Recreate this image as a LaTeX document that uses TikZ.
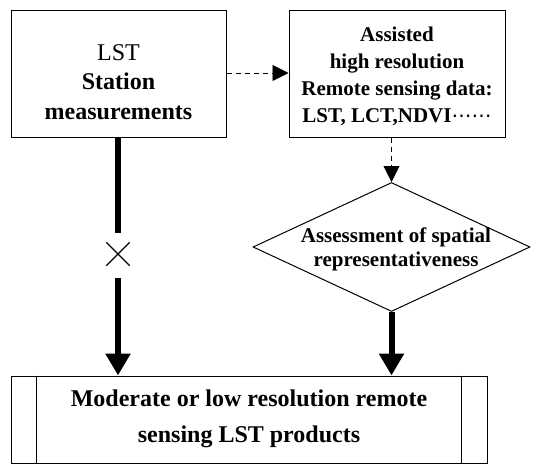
\documentclass[tikz,border=0pt]{standalone}
\usepackage{fontspec}
\setmainfont{Liberation Serif}
\newfontfamily\dvs{DejaVu Sans}
\usetikzlibrary{arrows.meta,shapes.geometric,shapes.misc}
\begin{document}
\begin{tikzpicture}[x=1pt,y=-1pt,
  boxst/.style={draw,line width=1pt,inner sep=0pt},
  thinarr/.style={draw,line width=0.9pt,dashed,dash pattern=on 5pt off 4pt,-{Triangle[length=16pt,width=16pt]}},
  thickarr/.style={draw,line width=6pt,-{Triangle[length=22pt,width=24pt]}},
  thickline/.style={draw,line width=6pt}]
\useasboundingbox (0,0) rectangle (550,466);
% boxes
\node[boxst,minimum width=215pt,minimum height=127pt] (st) at (118.5,73.5) {};
\node[align=center,font=\fontsize{24}{29.5}\selectfont] at (118.5,82) {LST\\\textbf{Station}\\\textbf{measurements}};
\node[boxst,minimum width=216pt,minimum height=127pt] (rs) at (397,73.5) {};
\node[align=center,font=\bfseries\fontsize{21}{27}\selectfont] at (397,76) {Assisted\\high resolution\\Remote sensing data:\\LST, LCT,NDVI{\dvs\mdseries\fontsize{20}{27}\selectfont ⋯⋯}};
\node[draw,line width=1pt,diamond,aspect=2.15,minimum width=277pt,minimum height=129pt,inner sep=0pt] (as) at (391.5,247) {};
\node[align=center,font=\bfseries\fontsize{21}{24}\selectfont] at (396,249) {Assessment of spatial\\representativeness};
\node[boxst,minimum width=476pt,minimum height=87pt] (pr) at (249,419.5) {};
\draw[line width=1pt] ([xshift=26pt]pr.north west) -- ([xshift=26pt]pr.south west);
\draw[line width=1pt] ([xshift=-26pt]pr.north east) -- ([xshift=-26pt]pr.south east);
\node[align=center,font=\bfseries\fontsize{24}{36}\selectfont] at (249,419) {Moderate or low resolution remote\\sensing LST products};
% connectors
\draw[thinarr] (st.east |- 0,73) -- (rs.west |- 0,73);
\draw[thinarr] (rs.south -| as.north) -- (as.north);
\node[cross out,draw,line width=1.3pt,minimum size=22pt,inner sep=0pt] (x) at (118,254) {};
\coordinate (a1) at (118,233);
\coordinate (a2) at (118,278);
\draw[thickline] (st.south -| a1) -- (a1);
\draw[thickarr] (a2) -- (pr.north -| a2);
\draw[thickarr] (as.south) -- (pr.north -| as.south);
\end{tikzpicture}
\end{document}
